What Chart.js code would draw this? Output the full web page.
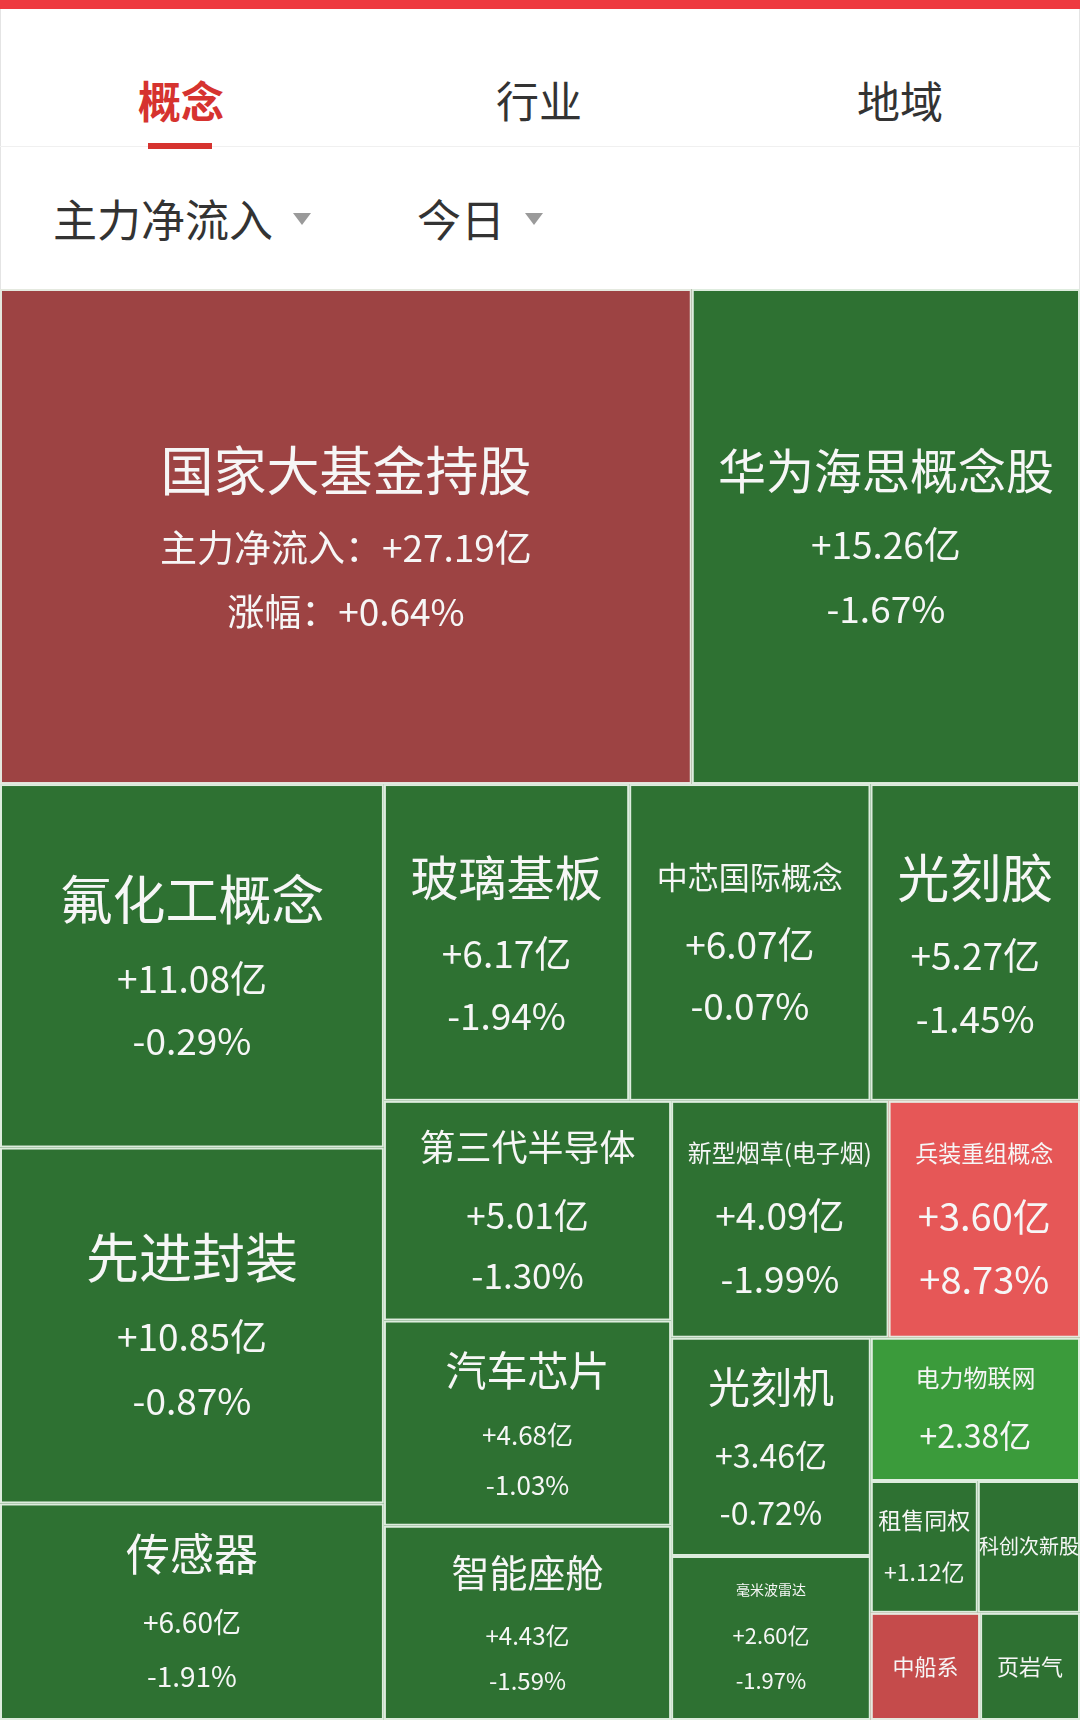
<!DOCTYPE html>
<html>
<head>
<meta charset="utf-8">
<script src="https://cdn.jsdelivr.net/npm/chart.js@4.4.1/dist/chart.umd.min.js"></script>
<style>
  html, body { margin: 0; padding: 0; background: #fff; }
  body { width: 1080px; height: 1723px; position: relative; overflow: hidden;
         font-family: "Noto Sans CJK SC", "Noto Sans", sans-serif; }
  .abs { position: absolute; }
  .topbar { left: 0; top: 0; width: 1080px; height: 9px; background: #ee3a40; }
  .edge { top: 9px; width: 1px; height: 280px; background: #e4e4e4; }
  .tab { top: 75px; width: 200px; text-align: center; font-size: 43px; line-height: 48px; color: #333; }
  .tab.on { color: #d6332f; font-weight: bold; }
  .uline { left: 148px; top: 143px; width: 64px; height: 6px; background: #d6332f; }
  .sep { left: 0; top: 146px; width: 1080px; height: 1px; background: #f0f0f0; }
  .filter { top: 194px; font-size: 44px; line-height: 48px; color: #333; white-space: nowrap; }
  .arrow { top: 213px; width: 0; height: 0; border-left: 9px solid transparent;
           border-right: 9px solid transparent; border-top: 12px solid #9a9a9a; }
  #wrap { left: 0; top: 289px; width: 1080px; height: 1431px; }
</style>
</head>
<body>
<div class="abs topbar"></div>
<div class="abs edge" style="left:0"></div>
<div class="abs edge" style="left:1079px"></div>
<div class="abs tab on" style="left:81px">概念</div>
<div class="abs tab" style="left:439px">行业</div>
<div class="abs tab" style="left:800px">地域</div>
<div class="abs sep"></div>
<div class="abs uline"></div>
<div class="abs filter" style="left:53px">主力净流入</div>
<div class="abs arrow" style="left:293px"></div>
<div class="abs filter" style="left:417px">今日</div>
<div class="abs arrow" style="left:525px"></div>
<div id="wrap" class="abs"><canvas id="treeChart"></canvas></div>

<script>
// 概念板块 主力净流入(亿) 今日
var names = ['国家大基金持股', '华为海思概念股', '氟化工概念', '先进封装', '传感器',
  '玻璃基板', '中芯国际概念', '光刻胶', '第三代半导体', '汽车芯片', '智能座舱',
  '新型烟草(电子烟)', '兵装重组概念', '光刻机', '毫米波雷达', '电力物联网',
  '租售同权', '科创次新股', '中船系', '页岩气'];
var inflow = [27.19, 15.26, 11.08, 10.85, 6.60, 6.17, 6.07, 5.27, 5.01, 4.68, 4.43,
  4.09, 3.60, 3.46, 2.60, 2.38, 1.12, 1.07, 0.93, 0.85];
var change = [0.64, -1.67, -0.29, -0.87, -1.91, -1.94, -0.07, -1.45, -1.30, -1.03, -1.59,
  -1.99, 8.73, -0.72, -1.97, null, null, null, null, null];

// styling: fill colour, and per cell [name size, line size, name dy, line1 dy, line2 dy, lines shown]
var G = '#2e7132';
var fills = ['#9d4343', G, G, G, G, G, G, G, G, G, G, G, '#e65757', G, G, '#3b9b3b', G, G, '#c54b4b', G];
var textStyle = [
  [53, 37, -66, 11, 75, 2], [48, 37, -66, 8, 72, 2], [53, 37, -66, 13, 75, 2],
  [53, 37, -68, 11, 75, 2], [44, 28, -57, 11, 65, 2], [48, 37, -65, 11, 73, 2],
  [31, 37, -65, 2, 63, 2], [52, 37, -64, 13, 76, 2], [36, 35, -63, 5, 65, 2],
  [41, 26, -53, 12, 62, 2], [38, 24, -50, 13, 58, 2], [24, 37, -66, -3, 60, 2],
  [23, 38, -66, -3, 60, 2], [42, 32, -60, 9, 66, 2], [14, 22, -48, -2, 43, 2],
  [24, 32, -31, 26, 0, 1], [23, 23, -27, 25, 0, 1], [20, 0, -1, 0, 0, 0],
  [22, 0, 0, 0, 0, 0], [22, 0, 0, 0, 0, 0]
];

function fmtSigned(v, d) { return (v >= 0 ? '+' : '') + v.toFixed(d); }

function avgRatio(row, L) {
  var s = row.reduce(function(a, b) { return a + b; }, 0);
  var t = s / L;
  var r = row.map(function(a) { var len = a / t; return Math.max(len / t, t / len); });
  return r.reduce(function(a, b) { return a + b; }, 0) / r.length;
}

// squarified layout in pixel space, returned as 0..1 fractions
function squarify(values, W, H) {
  var total = values.reduce(function(a, b) { return a + b; }, 0);
  var k = W * H / total;
  var areas = values.map(function(v) { return v * k; });
  var rect = { x: 0, y: 0, w: W, h: H };
  var out = [];
  var i = 0;
  while (i < areas.length) {
    var L = Math.min(rect.w, rect.h);
    var row = [areas[i]];
    var best = avgRatio(row, L);
    var j = i + 1;
    while (j < areas.length) {
      var test = row.concat(areas[j]);
      var s = avgRatio(test, L);
      if (s > best) break;
      row = test; best = s; j++;
    }
    var sum = row.reduce(function(a, b) { return a + b; }, 0);
    var t = sum / L;
    if (rect.w <= rect.h) {
      var cx = rect.x;
      row.forEach(function(a) { var len = a / t; out.push({ x: cx, y: rect.y, w: len, h: t }); cx += len; });
      rect.y += t; rect.h -= t;
    } else {
      var cy = rect.y;
      row.forEach(function(a) { var len = a / t; out.push({ x: rect.x, y: cy, w: t, h: len }); cy += len; });
      rect.x += t; rect.w -= t;
    }
    i = j;
  }
  return out.map(function(c) { return { x0: c.x / W, x1: (c.x + c.w) / W, y0: c.y / H, y1: (c.y + c.h) / H }; });
}

var treemapPlugin = {
  id: 'treemap',
  afterDatasetsDraw: function(chart) {
    var ctx = chart.ctx, xs = chart.scales.x, ys = chart.scales.y, area = chart.chartArea;
    var cells = squarify(inflow, area.right - area.left, area.bottom - area.top);
    ctx.save();
    cells.forEach(function(c, i) {
      var l = xs.getPixelForValue(c.x0), r = xs.getPixelForValue(c.x1);
      var t = ys.getPixelForValue(c.y0), b = ys.getPixelForValue(c.y1);
      ctx.fillStyle = fills[i];
      ctx.fillRect(l, t, r - l, b - t);
      ctx.strokeStyle = 'rgba(232,242,232,0.95)';
      ctx.lineWidth = 2;
      ctx.strokeRect(l + 1, t + 1, r - l - 2, b - t - 2);

      var st = textStyle[i];
      var mx = (l + r) / 2, my = (t + b) / 2;
      var lines = [];
      if (i === 0) {
        lines = ['主力净流入：' + fmtSigned(inflow[i], 2) + '亿', '涨幅：' + fmtSigned(change[i], 2) + '%'];
      } else {
        lines = [fmtSigned(inflow[i], 2) + '亿', change[i] === null ? '' : fmtSigned(change[i], 2) + '%'];
      }
      ctx.fillStyle = '#f6f6f6';
      ctx.textAlign = 'center';
      ctx.textBaseline = 'middle';
      ctx.font = st[0] + 'px "Noto Sans CJK SC", sans-serif';
      ctx.fillText(names[i], mx, my + st[2]);
      ctx.font = st[1] + 'px "Noto Sans CJK SC", sans-serif';
      if (st[5] >= 1) ctx.fillText(lines[0], mx, my + st[3]);
      if (st[5] >= 2) ctx.fillText(lines[1], mx, my + st[4]);
    });
    ctx.restore();
  }
};

var ctx = document.getElementById('treeChart').getContext('2d');
var treeChart = new Chart(ctx, {
  type: 'scatter',
  data: { datasets: [{ label: '主力净流入', data: [], pointRadius: 0 }] },
  options: {
    responsive: true,
    maintainAspectRatio: false,
    animation: false,
    layout: { padding: 0 },
    scales: {
      x: { display: false, min: 0, max: 1 },
      y: { display: false, min: 0, max: 1, reverse: true }
    },
    plugins: {
      legend: { display: false },
      tooltip: { enabled: false }
    }
  },
  plugins: [treemapPlugin]
});
</script>
</body>
</html>
